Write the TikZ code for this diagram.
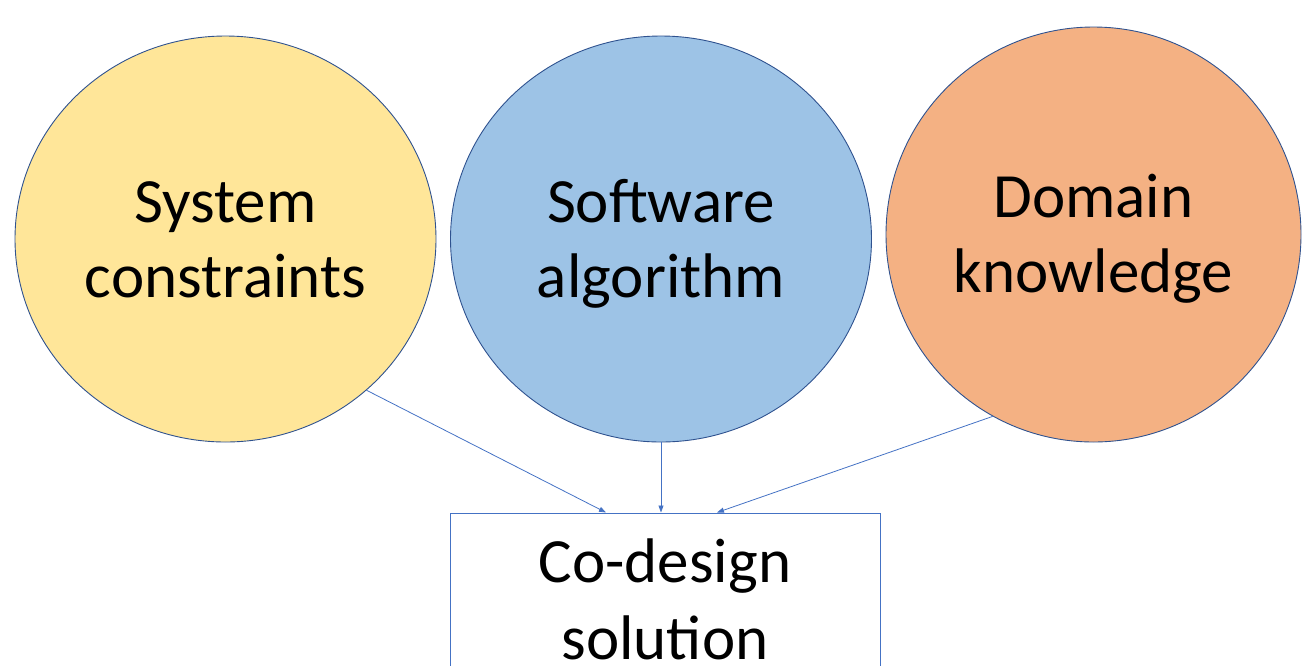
\documentclass[tikz,border=0pt]{standalone}
\usepackage{fontspec}
\setmainfont{Carlito}
\usetikzlibrary{shapes.geometric,arrows.meta}
\definecolor{fillY}{HTML}{FFE699}
\definecolor{fillB}{HTML}{9DC3E6}
\definecolor{fillO}{HTML}{F4B183}
\definecolor{rimC}{HTML}{2F528F}
\definecolor{lineC}{HTML}{4472C4}
% fixed-height strut so every two-line label sits at the same offset
\newcommand\lstrut{\rule[-10pt]{0pt}{62pt}}
\tikzset{
  bubble/.style={ellipse, draw=rimC, line width=0.9pt, inner sep=0pt,
    align=center, font=\fontsize{63}{75}\selectfont},
  resultbox/.style={rectangle, draw=lineC, line width=1pt, fill=white,
    inner sep=0pt, minimum width=430pt, minimum height=174pt,
    align=center, font=\fontsize{63}{77}\selectfont},
  feed/.style={draw=lineC, line width=0.8pt,
    -{Triangle[length=7pt,width=5pt]}}
}
\begin{document}
\begin{tikzpicture}[x=1pt,y=-1pt]
\useasboundingbox (0,0) rectangle (1302,665);
\node[bubble, fill=fillY, minimum width=421pt, minimum height=406pt]
  (sys) at (225.5,239) {\lstrut System\\\lstrut constraints};
\node[bubble, fill=fillB, minimum width=421pt, minimum height=406pt]
  (sw) at (661,239) {\lstrut Software\\\lstrut algorithm};
\node[bubble, fill=fillO, minimum width=415pt, minimum height=415pt]
  (dom) at (1093.5,234.5) {\lstrut Domain\\\lstrut knowledge};
\node[resultbox] (sol) at (665,600) {\lstrut Co-design\\\lstrut solution};
\draw[feed] (sys.-47.2) -- ([xshift=-59pt]sol.north);
\draw[feed] (sw.south) -- (sw.south |- sol.north);
\draw[feed] (dom.-119.6) -- ([xshift=52pt]sol.north);
\end{tikzpicture}
\end{document}
